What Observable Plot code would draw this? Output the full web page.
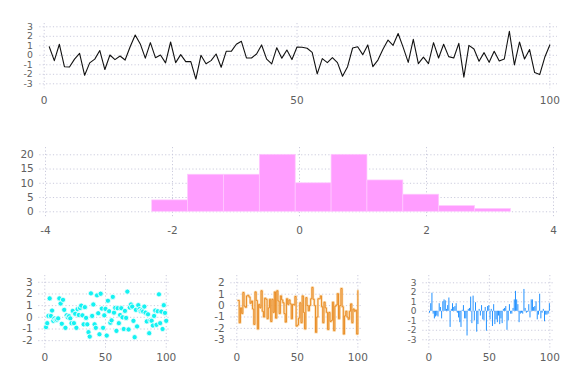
<!DOCTYPE html>
<html><head><meta charset="utf-8">
<script src="https://cdn.jsdelivr.net/npm/d3@7"></script>
<script src="https://cdn.jsdelivr.net/npm/@observablehq/plot@0.6"></script>
<style>
html,body{margin:0;padding:0;background:#fff;}
#wrap{position:relative;width:576px;height:384px;overflow:hidden;background:#fff;}
#wrap svg{position:absolute;left:0;}
</style></head><body><div id="wrap"></div>
<script>
// ---- data ----
const lineValues = [
 0.9,-0.56,1.16,-1.2,-1.23,-0.4,0.2,-2.1,-0.8,-0.4,
 0.5,-1.5,0.03,-0.45,-0.07,-0.5,0.9,2.14,1.2,-0.3,
 1.33,-0.25,0.03,-0.8,1.4,-0.77,0.07,-0.67,-0.67,-2.5,
 0,-0.88,-0.56,0.14,-1.26,0.42,0.42,1.16,1.47,-0.28,
 -0.28,0.14,1.09,-0.4,-0.9,0.8,-0.3,0.56,-0.45,0.88,
 0.84,0.74,0.3,-1.96,-0.35,-0.77,-0.25,-0.77,-2.2,-1.2,
 0.77,0.9,0.07,1.09,-1.2,-0.5,0.63,1.6,1.05,2.3,
 0.84,-0.74,1.68,-0.88,-0.2,-0.88,1.33,-0.28,1.16,-0.14,
 -0.28,1.26,-2.3,1.05,0.67,-0.63,0.28,-0.74,0.42,-0.6,
 -0.39,2.53,-1.02,1.4,-0.39,0.6,-1.82,-2.03,-0.21,1.09];

const histEdges = [-2.32,-1.755,-1.19,-0.625,-0.06,0.505,1.07,1.635,2.2,2.765,3.33];
const histCounts = [4,13,13,20,10,20,11,6,2,1];

const scatterValues = [
 -0.84,-0.5,0.12,1.62,0.12,0.58,-0.3,-0.1,-0.23,-0.2,
 -0.09,1.62,1.18,-0.55,1.5,0.64,-0.9,0.17,0.0,0.1,
 -0.09,-0.5,0.55,-0.5,0.3,-0.9,0.7,0.2,0.8,1.0,
 0.17,-0.6,0.87,-0.05,-0.6,-1.27,-1.65,2.05,0.12,1.1,
 -0.6,-0.9,1.88,0.35,-1.45,2.02,0.75,-0.9,0.17,0.72,
 -1.56,1.42,0.52,-0.46,-0.26,1.75,0.4,0.81,-1.16,0.78,
 -0.5,0.2,0.78,0,-1.0,0.55,-0.05,2.2,-1.04,0.84,
 1.1,0.92,-0.3,-1.7,0.64,-0.78,1.04,0.7,0.55,0.6,
 0.5,0.92,0.4,-0.35,0.26,-1.36,-0.26,-0.3,-0.7,0.12,
 0.58,-0.64,0.52,1.97,-0.5,0.49,-1.0,1.04,0.38,-0.3];

const stepValues = [
 0.45,-1.5,-0.2,-0.7,1.15,-0.05,-0.15,0.85,0.9,0.75,
 0.2,0.4,-0.3,-1.65,1.2,0.45,-2.05,0.1,-0.2,1.3,
 -0.5,-1.0,0.65,0.55,-1.15,-0.2,0.55,-1.4,0.55,-0.6,
 1.2,-1.1,1.3,0.4,-0.7,0.85,0.5,0.25,-0.7,-1.45,
 0.6,0.1,0.5,0.15,-1.15,0.1,0.05,0.8,-1.8,-1.7,
 -1.1,0.25,-1.5,0.85,-0.6,-2.05,0.7,0.0,-0.45,0.0,
 0.6,1.6,0.55,0.0,-2.35,-1.0,0.6,0.6,0.85,-0.1,
 -1.5,0.3,-0.2,-0.6,-2.1,-0.6,-1.4,-1.3,0.3,-2.2,
 -0.05,0.05,1.05,-1.15,0.0,1.5,-0.1,-2.5,-0.9,-0.5,
 -1.0,-1.2,-0.5,0.15,-1.5,-0.3,-0.5,-0.4,-2.5,1.3];

const barValues = [
 -0.2,0.8,1.9,-0.3,-0.8,-0.6,-0.5,-0.6,0.8,0.4,
 -0.8,1.0,1.2,1.1,0.2,0.6,1.4,-1.7,0.2,0.8,
 0.4,0.5,0.8,-0.2,-0.7,-1.2,-1.7,0.1,0.6,-0.8,
 -0.8,-2.6,0.2,0.3,1.5,-1.3,1.6,-1.0,0.9,-2.2,
 -1.4,0.2,-0.5,0.6,-0.9,-1.0,0.4,-2.1,0.5,0.6,
 -0.9,0.2,-1.6,0.7,-1.4,-0.9,-1.2,-0.5,-1.4,-0.8,
 -1.3,0.2,0.3,0.5,-2.0,-1.0,0.7,-0.3,-0.3,0.3,
 1.2,2.1,1.2,0.7,-1.2,-0.3,-0.2,-0.3,2.3,0.3,
 -0.2,-0.1,0.7,-0.7,1.2,1.2,0.4,0.5,1.0,-0.9,
 -0.4,1.8,-0.8,-0.2,0.2,-1.1,-0.4,-0.4,-0.3,0.8];

const indexTicks = [0,50,100];
const lineYTicks = [-3,-2,-1,0,1,2,3];
const histXTicks = [-4,-2,0,2,4];
const histYTicks = [0,5,10,15,20];
const scatterYTicks = [-2,-1,0,1,2,3];
const stepYTicks = [-3,-2,-1,0,1,2];
const barYTicks = [-3,-2,-1,0,1,2,3];

// ---- tables ----
const toRows = vals => vals.map((v, k) => ({i: k + 1, v}));
const lineRows = toRows(lineValues);
const scatterRows = toRows(scatterValues);
const stepRows = toRows(stepValues);
const barRows = toRows(barValues);
const histRows = histCounts.map((c, k) => ({x1: histEdges[k], x2: histEdges[k + 1], c}));

// ---- styling ----
const FONT = "'DejaVu Sans', sans-serif";
const TXT = "#606060";
const GRID = "#cbcbdd";
const wrap = document.getElementById("wrap");

function panel({top, height, frame, xDomain, yDomain, xTicks, yTicks, marks, xPad, yPad, yFont}) {
  const [fx0, fx1, fy0, fy1] = frame;
  const svg = Plot.plot({
    width: 576, height,
    marginLeft: fx0, marginRight: 576 - fx1,
    marginTop: fy0 - top, marginBottom: top + height - fy1,
    style: {fontFamily: FONT, fontSize: "10.5px", color: TXT, background: "transparent", overflow: "visible"},
    x: {domain: xDomain},
    y: {domain: yDomain},
    marks: [
      Plot.gridX(xTicks, {stroke: GRID, strokeOpacity: 1, strokeDasharray: "1.2,2.2"}),
      Plot.gridY(yTicks, {stroke: GRID, strokeOpacity: 1, strokeDasharray: "1.2,2.2"}),
      ...marks,
      Plot.axisX(xTicks, {tickSize: 0, tickPadding: xPad, label: null, fontSize: 10.5, tickFormat: d => String(d)}),
      Plot.axisY(yTicks, {tickSize: 0, tickPadding: yPad, label: null, fontSize: yFont, tickFormat: d => String(d)})
    ]
  });
  svg.style.top = top + "px";
  wrap.appendChild(svg);
}

// top: line
panel({
  top: 0, height: 112, frame: [39.3, 557, 23, 88.3],
  xDomain: [-0.87, 101.52], yDomain: [-3.526, 3.347],
  xTicks: indexTicks, yTicks: lineYTicks, xPad: 8, yPad: 7, yFont: 9.3,
  marks: [Plot.line(lineRows, {x: "i", y: "v", stroke: "#111", strokeWidth: 1.1})]
});

// middle: histogram
panel({
  top: 120, height: 120, frame: [39.3, 557, 147, 218.3],
  xDomain: [-4.09, 4.063], yDomain: [-2.46, 22.56],
  xTicks: histXTicks, yTicks: histYTicks, xPad: 7.5, yPad: 6, yFont: 10.5,
  marks: [Plot.rectY(histRows, {x1: "x1", x2: "x2", y1: 0, y2: "c", fill: "#ff9dff", stroke: "#ffcaff", strokeWidth: 0.7})]
});

// bottom-left: scatter
panel({
  top: 262, height: 122, frame: [38.2, 170.7, 275, 350],
  xDomain: [-5.02, 104.1], yDomain: [-2.84, 3.58],
  xTicks: indexTicks, yTicks: scatterYTicks, xPad: 3, yPad: 6, yFont: 10.5,
  marks: [Plot.dot(scatterRows, {x: "i", y: "v", r: 2.6, fill: "#14f2f2", stroke: "#ffffff", strokeWidth: 0.8})]
});

// bottom-middle: steps
panel({
  top: 262, height: 122, frame: [230.3, 362.8, 275, 350],
  xDomain: [-4.96, 104.5], yDomain: [-3.94, 2.64],
  xTicks: indexTicks, yTicks: stepYTicks, xPad: 3, yPad: 6, yFont: 10.5,
  marks: [
    Plot.line(stepRows, {x: "i", y: "v", curve: "step-after", stroke: "#f8cd92", strokeWidth: 2.4, strokeOpacity: 0.7}),
    Plot.line(stepRows, {x: "i", y: "v", curve: "step-after", stroke: "#e8861a", strokeWidth: 0.9})
  ]
});

// bottom-right: bars
panel({
  top: 262, height: 122, frame: [422.3, 554.8, 275, 350],
  xDomain: [-4.96, 104.5], yDomain: [-4.13, 3.77],
  xTicks: indexTicks, yTicks: barYTicks, xPad: 3, yPad: 6.3, yFont: 9,
  marks: [Plot.rectY(barRows, {x1: d => d.i - 0.4, x2: d => d.i + 0.4, y1: 0, y2: "v", fill: "#1e8fff"})]
});
</script></body></html>
